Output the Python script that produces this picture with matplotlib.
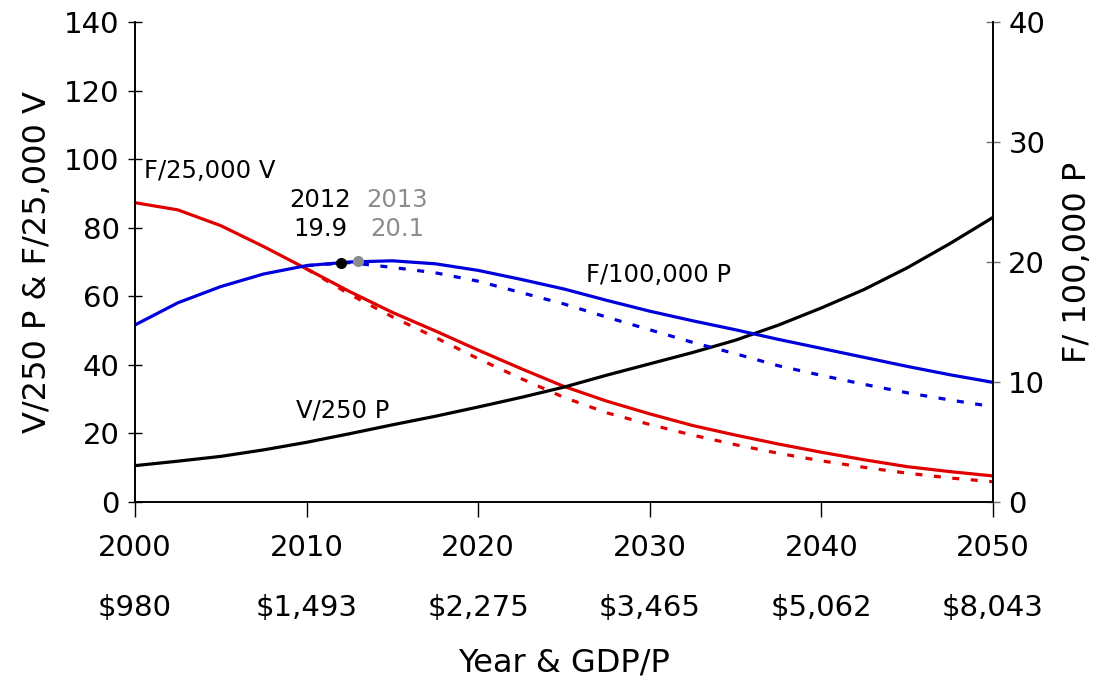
import numpy as np
import matplotlib
matplotlib.use("Agg")
from matplotlib import pyplot as plt

years = [2000, 2002.5, 2005, 2007.5, 2010, 2012.5, 2015, 2017.5, 2020, 2022.5, 2025,
         2027.5, 2030, 2032.5, 2035, 2037.5, 2040, 2042.5, 2045, 2047.5, 2050]

# left axis series
v_per_p = [10.6, 11.9, 13.3, 15.2, 17.4, 19.9, 22.5, 25.0, 27.7, 30.5, 33.5,
           37.0, 40.3, 43.6, 47.2, 51.6, 56.6, 62.0, 68.3, 75.4, 83.0]
f_per_v = [87.3, 85.2, 80.6, 74.5, 68.0, 61.4, 55.3, 49.9, 44.3, 38.9, 33.7,
           29.4, 25.7, 22.3, 19.5, 16.9, 14.5, 12.3, 10.3, 8.85, 7.6]

# right axis series
f_per_p = [14.75, 16.6, 17.95, 19.0, 19.7, 20.0, 20.1, 19.85, 19.3, 18.55, 17.75,
           16.8, 15.9, 15.1, 14.35, 13.55, 12.8, 12.05, 11.3, 10.6, 9.97]

# projected (dashed) alternatives, from 2010 on
years_alt = [2010, 2012.5, 2015, 2017.5, 2020, 2022.5, 2025, 2027.5, 2030, 2032.5,
             2035, 2037.5, 2040, 2042.5, 2045, 2047.5, 2050]
f_per_v_alt = [68.0, 60.6, 54.0, 48.0, 41.8, 36.0, 30.5, 26.0, 22.6, 19.5,
               16.7, 14.2, 12.0, 10.1, 8.4, 7.0, 5.9]
f_per_p_alt = [19.7, 19.95, 19.55, 19.1, 18.4, 17.45, 16.5, 15.4, 14.35, 13.3,
               12.35, 11.35, 10.55, 9.8, 9.1, 8.5, 7.94]

point_years = [2012, 2013]
point_vals = [19.9, 20.1]

xticks = [2000, 2010, 2020, 2030, 2040, 2050]
gdp = ["$980", "$1,493", "$2,275", "$3,465", "$5,062", "$8,043"]

red = "#e00000"
blue = "#0000dd"
grey = "#8c8c8c"

fig = plt.figure(figsize=(11.08, 6.92), dpi=100)
ax = fig.add_axes([0.1218, 0.2746, 0.7744, 0.6936])
ax2 = ax.twinx()

lw = 2.3
ax.plot(years_alt, f_per_v_alt, color=red, lw=lw, dashes=(2.2, 3.6))
ax.plot(years, f_per_v, color=red, lw=lw)
ax.plot(years, v_per_p, color="black", lw=lw)
ax2.plot(years_alt, f_per_p_alt, color=blue, lw=lw, dashes=(2.2, 3.6))
ax2.plot(years, f_per_p, color=blue, lw=lw)
ax2.plot(point_years[0], point_vals[0], "o", color="black", ms=7, zorder=5)
ax2.plot(point_years[1], point_vals[1], "o", color=grey, ms=7, zorder=5)

ax.set_xlim(2000, 2050)
ax.set_ylim(0, 140)
ax2.set_ylim(0, 40)
ax.set_yticks(range(0, 141, 20))
ax2.set_yticks(range(0, 41, 10))
ax.set_xticks(xticks)
ax.set_xticklabels([f"{y}\n\n{g}" for y, g in zip(xticks, gdp)])
for lab in ax.get_xticklabels():
    lab.set_linespacing(1.1)

for a in (ax, ax2):
    a.spines["top"].set_visible(False)
    for s in a.spines.values():
        s.set_linewidth(1.2)
ax.tick_params(axis="y", direction="inout", length=10, width=1, labelsize=21, pad=6)
ax.tick_params(axis="x", direction="out", length=11, width=1, labelsize=21, pad=12)
ax2.tick_params(axis="y", direction="inout", length=10, width=1, color="#707070",
                labelsize=21, pad=6)

ax.set_ylabel("V/250 P & F/25,000 V", fontsize=23, labelpad=8)
ax2.set_ylabel("F/ 100,000 P", fontsize=23, labelpad=12)
ax.set_xlabel("Year & GDP/P", fontsize=23, labelpad=18)

fs = 17.5
ax.text(2000.5, 96.5, "F/25,000 V", fontsize=fs, va="center", ha="left")
ax.text(2010.8, 88.1, "2012", fontsize=fs, va="center", ha="center")
ax.text(2010.8, 79.6, "19.9", fontsize=fs, va="center", ha="center")
ax.text(2015.3, 88.1, "2013", fontsize=fs, va="center", ha="center", color=grey)
ax.text(2015.3, 79.6, "20.1", fontsize=fs, va="center", ha="center", color=grey)
ax.text(2030.5, 66.2, "F/100,000 P", fontsize=fs, va="center", ha="center")
ax.text(2012.1, 26.8, "V/250 P", fontsize=fs, va="center", ha="center")

plt.savefig("out.png", dpi=100)
plt.close()
